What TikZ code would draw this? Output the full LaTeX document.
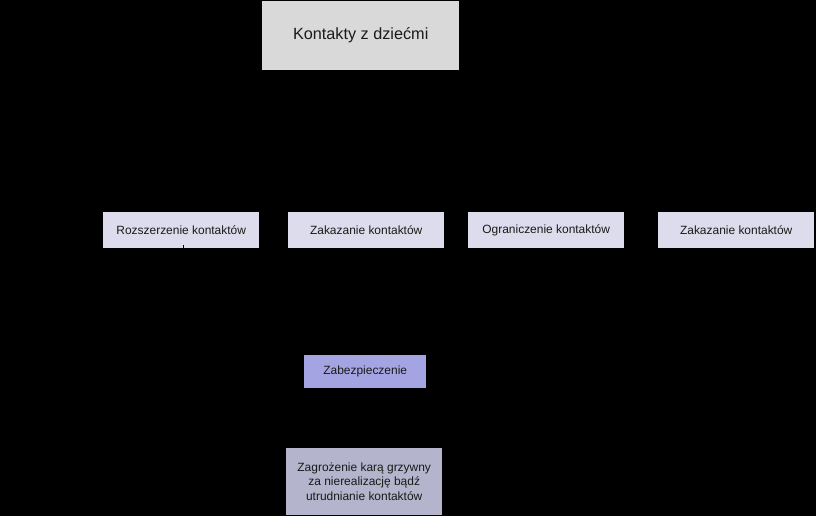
\documentclass[tikz,border=0pt]{standalone}
\usepackage{fontspec}
\setmainfont{Liberation Sans}
\definecolor{topfill}{HTML}{D9D9D9}
\definecolor{rowfill}{HTML}{DCDCEC}
\definecolor{zabfill}{HTML}{A5A4E2}
\definecolor{botfill}{HTML}{B4B4CC}
\definecolor{txt}{HTML}{1A1A1A}
\begin{document}
\begin{tikzpicture}[x=1bp,y=-1bp,
  box/.style={draw=none,inner sep=0pt,anchor=north west,text=txt,align=center,font=\fontsize{12}{14}\selectfont},
  link/.style={draw=black,line width=1bp}]
\fill[black] (0,0) rectangle (816,516);
\useasboundingbox (0,0) rectangle (816,516);
\node[box,fill=topfill,minimum width=197bp,minimum height=69bp,font=\fontsize{16.3}{18}\selectfont] (top) at (262,1) {Kontakty z dziećmi};
\node[box,fill=rowfill,minimum width=156bp,minimum height=36bp] (r1) at (103,212) {Rozszerzenie kontaktów};
\node[box,fill=rowfill,minimum width=156bp,minimum height=36bp] (r2) at (288,212) {Zakazanie kontaktów};
\node[box,fill=rowfill,minimum width=156bp,minimum height=36bp] (r3) at (468,212) {Ograniczenie kontaktów};
\node[box,fill=rowfill,minimum width=156bp,minimum height=36bp] (r4) at (658,212) {Zakazanie kontaktów};
\node[box,fill=zabfill,minimum width=122bp,minimum height=33bp] (zab) at (304,355) {Zabezpieczenie};
\node[box,fill=botfill,minimum width=156bp,minimum height=67bp,font=\fontsize{12}{15}\selectfont] (zag) at (286,448) {Zagrożenie karą grzywny\\za nierealizację bądź\\utrudnianie kontaktów};
\coordinate (tick) at (183,245);
\draw[link] (tick) -- (183,252);
\end{tikzpicture}
\end{document}
